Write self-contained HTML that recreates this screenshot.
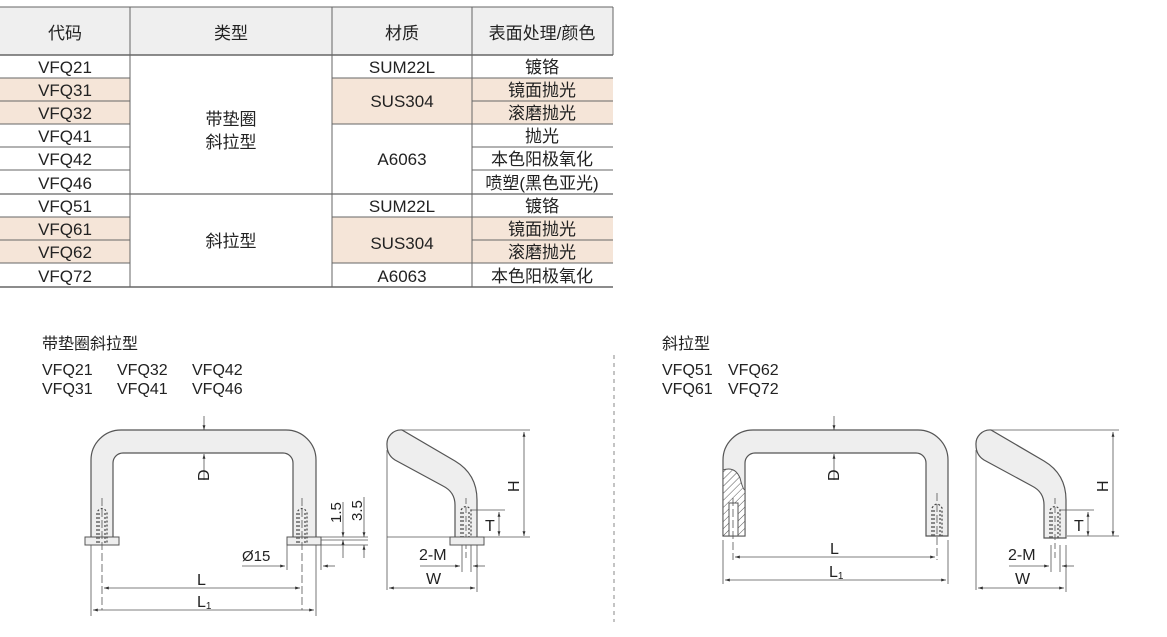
<!DOCTYPE html>
<html><head><meta charset="utf-8"><style>
html,body{margin:0;padding:0;background:#fff;}
body{width:1167px;height:637px;position:relative;overflow:hidden;font-family:"Liberation Sans","Noto Sans CJK SC",sans-serif;color:#222;}
svg{position:absolute;left:0;top:0;}
</style></head><body>
<svg width="1167" height="637" viewBox="0 0 1167 637" xmlns="http://www.w3.org/2000/svg" font-family="Liberation Sans, Noto Sans CJK SC, sans-serif">
<defs>
<pattern id="hatch" width="5" height="5" patternUnits="userSpaceOnUse" patternTransform="rotate(45)">
<rect width="5" height="5" fill="#fff"/><line x1="0" y1="0" x2="0" y2="5" stroke="#555" stroke-width="1"/></pattern>
<marker id="a" viewBox="0 0 10 10" refX="10" refY="5" markerWidth="8" markerHeight="6" orient="auto-start-reverse"><path d="M0,2 L10,5 L0,8z" fill="#333"/></marker>
</defs>
<!-- TABLE -->
<rect x="0" y="7" width="613" height="48" fill="#efefef"/>
<g fill="#f5e5d8">
<rect x="0" y="78" width="130" height="46"/>
<rect x="332" y="78" width="281" height="46"/>
<rect x="0" y="217" width="130" height="46"/>
<rect x="332" y="217" width="281" height="46"/>
</g>
<g stroke="#666" stroke-width="1">
<line x1="0" y1="7" x2="613" y2="7"/>
<line x1="0" y1="55" x2="613" y2="55" stroke-width="1.5"/>
<line x1="0" y1="78" x2="130" y2="78"/><line x1="332" y1="78" x2="613" y2="78"/>
<line x1="0" y1="101" x2="130" y2="101"/><line x1="472" y1="101" x2="613" y2="101"/>
<line x1="0" y1="124" x2="130" y2="124"/><line x1="332" y1="124" x2="613" y2="124"/>
<line x1="0" y1="147" x2="130" y2="147"/><line x1="472" y1="147" x2="613" y2="147"/>
<line x1="0" y1="170" x2="130" y2="170"/><line x1="472" y1="170" x2="613" y2="170"/>
<line x1="0" y1="194" x2="613" y2="194" stroke-width="1.3"/>
<line x1="0" y1="217" x2="130" y2="217"/><line x1="332" y1="217" x2="613" y2="217"/>
<line x1="0" y1="240" x2="130" y2="240"/><line x1="472" y1="240" x2="613" y2="240"/>
<line x1="0" y1="263" x2="130" y2="263"/><line x1="332" y1="263" x2="613" y2="263"/>
<line x1="0" y1="287" x2="613" y2="287" stroke-width="1.5"/>
<line x1="130" y1="7" x2="130" y2="287"/>
<line x1="332" y1="7" x2="332" y2="287"/>
<line x1="472" y1="7" x2="472" y2="287"/>
<line x1="613" y1="7" x2="613" y2="55"/>
</g>
<g font-size="17" text-anchor="middle" fill="#222">
<text x="65" y="39">代码</text><text x="231" y="39">类型</text><text x="402" y="39">材质</text><text x="542" y="39">表面处理/颜色</text>
<text x="65" y="73">VFQ21</text><text x="65" y="96">VFQ31</text><text x="65" y="119">VFQ32</text><text x="65" y="142">VFQ41</text><text x="65" y="165">VFQ42</text><text x="65" y="189">VFQ46</text>
<text x="65" y="212">VFQ51</text><text x="65" y="235">VFQ61</text><text x="65" y="258">VFQ62</text><text x="65" y="282">VFQ72</text>
<text x="231" y="125">带垫圈</text><text x="231" y="148">斜拉型</text><text x="231" y="247">斜拉型</text>
<text x="402" y="73">SUM22L</text><text x="402" y="107">SUS304</text><text x="402" y="165">A6063</text>
<text x="402" y="212">SUM22L</text><text x="402" y="249">SUS304</text><text x="402" y="282">A6063</text>
<text x="542" y="73">镀铬</text><text x="542" y="96">镜面抛光</text><text x="542" y="119">滚磨抛光</text><text x="542" y="142">抛光</text><text x="542" y="165">本色阳极氧化</text><text x="542" y="189">喷塑(黑色亚光)</text>
<text x="542" y="212">镀铬</text><text x="542" y="235">镜面抛光</text><text x="542" y="258">滚磨抛光</text><text x="542" y="282">本色阳极氧化</text>
</g>
<!-- captions -->
<g font-size="16" fill="#222">
<text x="42" y="349">带垫圈斜拉型</text>
<text x="42" y="375">VFQ21</text><text x="117" y="375">VFQ32</text><text x="192" y="375">VFQ42</text>
<text x="42" y="394">VFQ31</text><text x="117" y="394">VFQ41</text><text x="192" y="394">VFQ46</text>
<text x="662" y="349">斜拉型</text>
<text x="662" y="375">VFQ51</text><text x="728" y="375">VFQ62</text>
<text x="662" y="394">VFQ61</text><text x="728" y="394">VFQ72</text>
</g>
<line x1="614" y1="355" x2="614" y2="622" stroke="#888" stroke-dasharray="4,4"/>

<!-- LEFT FRONT -->
<path d="M91,538 V460 A30,30 0 0 1 121,430 H286 A30,30 0 0 1 316,460 V538 H293 V463 A10,10 0 0 0 283,453 H123 A10,10 0 0 0 113,463 V538Z" fill="#eeeeee" stroke="#555" stroke-width="1.2"/>
<rect x="85" y="537" width="34" height="8" fill="#eee" stroke="#555"/>
<rect x="287" y="537" width="34" height="8" fill="#eee" stroke="#555"/>
<g fill="none" stroke="#444" stroke-width="1.2" stroke-dasharray="2,2">
<path d="M97,543 V512 Q102,505 107,512 V543"/><path d="M99,543 V512 M105,543 V512"/>
<path d="M297,543 V512 Q302,505 307,512 V543"/><path d="M299,543 V512 M305,543 V512"/>
</g>
<g stroke="#555" stroke-width="0.8" fill="none">
<line x1="102" y1="498" x2="102" y2="610" stroke-dasharray="8,3"/>
<line x1="302" y1="498" x2="302" y2="610" stroke-dasharray="8,3"/>
<line x1="91" y1="545" x2="91" y2="616"/><line x1="316" y1="545" x2="316" y2="616"/>
<line x1="287" y1="545" x2="287" y2="570"/><line x1="321" y1="545" x2="321" y2="570"/>
<line x1="104" y1="588" x2="300" y2="588" marker-start="url(#a)" marker-end="url(#a)"/>
<line x1="93" y1="610" x2="314" y2="610" marker-start="url(#a)" marker-end="url(#a)"/>
<line x1="242" y1="566" x2="285" y2="566" marker-end="url(#a)"/>
<line x1="335" y1="566" x2="323" y2="566" marker-end="url(#a)"/>
<line x1="204" y1="416" x2="204" y2="430" marker-end="url(#a)"/>
<line x1="204" y1="480" x2="204" y2="454" marker-end="url(#a)"/>
<line x1="321" y1="537" x2="368" y2="537"/><line x1="321" y1="540" x2="368" y2="540"/><line x1="321" y1="545" x2="368" y2="545"/>
<line x1="343" y1="502" x2="343" y2="537" marker-end="url(#a)"/><line x1="343" y1="558" x2="343" y2="540" marker-end="url(#a)"/>
<line x1="364" y1="497" x2="364" y2="537" marker-end="url(#a)"/><line x1="364" y1="558" x2="364" y2="545" marker-end="url(#a)"/>
</g>
<g font-size="16" fill="#222">
<text x="0" y="0" transform="translate(209,481) rotate(-90)">D</text>
<text x="197" y="585">L</text><text x="197" y="607">L<tspan font-size="10" dy="2">1</tspan></text>
<text x="242" y="561" font-size="15">Ø15</text>
<text x="0" y="0" font-size="15" transform="translate(341,523) rotate(-90)">1.5</text>
<text x="0" y="0" font-size="15" transform="translate(362,521) rotate(-90)">3.5</text>
</g>

<!-- SIDE VIEW group -->
<g id="side">
<path d="M387,445 A14,14 0 0 1 402,430 L455,461 Q477,474 477,500 V538 H455 V505 Q455,492 443,486 L395,460 Q387,455 387,445Z" fill="#eee" stroke="#555" stroke-width="1.2"/>
<g fill="none" stroke="#444" stroke-width="1.2" stroke-dasharray="2,2">
<path d="M461,538 V510 Q466,503 471,510 V538"/><path d="M463,538 V512 M469,538 V512"/>
</g>
<g stroke="#555" stroke-width="0.8" fill="none">
<line x1="387" y1="450" x2="387" y2="590"/>
<line x1="402" y1="430" x2="530" y2="430"/>
<line x1="466" y1="498" x2="466" y2="560" stroke-dasharray="6,3"/>
<line x1="524" y1="432" x2="524" y2="536" marker-start="url(#a)" marker-end="url(#a)"/>
<line x1="471" y1="510" x2="505" y2="510"/>
<line x1="499" y1="512" x2="499" y2="536" marker-start="url(#a)" marker-end="url(#a)"/>
<line x1="462" y1="545" x2="462" y2="572"/><line x1="471" y1="545" x2="471" y2="572"/>
<line x1="420" y1="566" x2="460" y2="566" marker-end="url(#a)"/>
<line x1="485" y1="566" x2="473" y2="566" marker-end="url(#a)"/>
<line x1="477" y1="545" x2="477" y2="592"/>
<line x1="389" y1="588" x2="475" y2="588" marker-start="url(#a)" marker-end="url(#a)"/>
</g>
<g font-size="16" fill="#222">
<text x="0" y="0" transform="translate(519,492) rotate(-90)">H</text>
<text x="485" y="531">T</text>
<text x="419" y="560">2-M</text>
<text x="426" y="584">W</text>
</g>
</g>
<line x1="387" y1="537" x2="530" y2="537" stroke="#555" stroke-width="0.8"/>
<rect x="450" y="537" width="34" height="8" fill="#eee" stroke="#555"/>
<use href="#side" transform="translate(589,0)"/>
<line x1="1067" y1="536" x2="1119" y2="536" stroke="#555" stroke-width="0.8"/>

<!-- RIGHT FRONT -->
<path d="M723,536 V460 A30,30 0 0 1 753,430 H918 A30,30 0 0 1 948,460 V536 H926 V463 A10,10 0 0 0 916,453 H755 A10,10 0 0 0 745,463 V536Z" fill="#eee" stroke="#555" stroke-width="1.2"/>
<path d="M723,470 Q735,466 740,478 Q743,490 745,490 V536 H723Z" fill="url(#hatch)" stroke="#555"/>
<rect x="729" y="503" width="9" height="33" fill="#fff" stroke="#555"/>
<g fill="none" stroke="#444" stroke-width="1.2" stroke-dasharray="2,2">
<path d="M932,536 V508 Q937,500 942,508 V536"/><path d="M934,536 V510 M940,536 V510"/>
</g>
<g stroke="#555" stroke-width="0.8" fill="none">
<line x1="733" y1="498" x2="733" y2="560" stroke-dasharray="8,3"/>
<line x1="937" y1="493" x2="937" y2="560" stroke-dasharray="8,3"/>
<line x1="723" y1="540" x2="723" y2="584"/><line x1="948" y1="540" x2="948" y2="584"/>
<line x1="735" y1="557" x2="935" y2="557" marker-start="url(#a)" marker-end="url(#a)"/>
<line x1="725" y1="580" x2="946" y2="580" marker-start="url(#a)" marker-end="url(#a)"/>
<line x1="834" y1="416" x2="834" y2="430" marker-end="url(#a)"/>
<line x1="834" y1="480" x2="834" y2="454" marker-end="url(#a)"/>
</g>
<g font-size="16" fill="#222">
<text x="0" y="0" transform="translate(839,481) rotate(-90)">D</text>
<text x="830" y="554">L</text><text x="829" y="577">L<tspan font-size="10" dy="2">1</tspan></text>
</g>
</svg>
</body></html>
